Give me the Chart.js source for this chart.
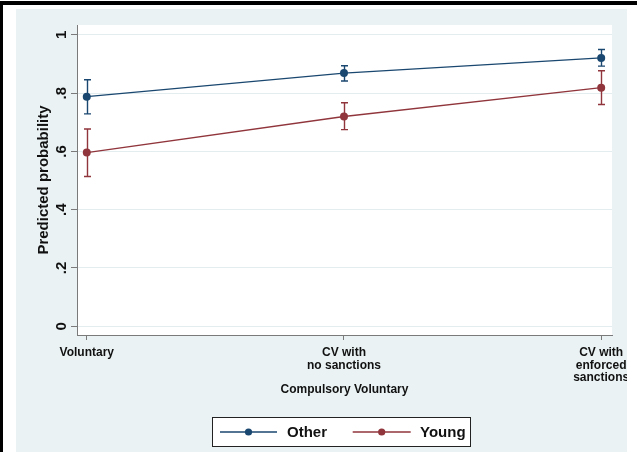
<!DOCTYPE html>
<html>
<head>
<meta charset="utf-8">
<script src="https://cdn.jsdelivr.net/npm/chart.js@4"></script>
<style>
  html, body { margin: 0; padding: 0; background: #fff; }
  body { width: 637px; height: 452px; position: relative; overflow: hidden; }
  #topRule { position: absolute; left: 0; top: 1px; width: 637px; height: 4px; background: #000; }
  #leftRule { position: absolute; left: 0; top: 1px; width: 3px; height: 451px; background: #000; }
  #wrap { position: absolute; left: 16px; top: 9px; width: 611px; height: 443px; background: #eaf2f3; }
  canvas { display: block; }
</style>
</head>
<body>
<div id="topRule"></div>
<div id="leftRule"></div>
<div id="wrap"><canvas id="c" width="611" height="443"></canvas></div>
<script>
// Categories of the x axis (each entry is a multi-line label)
const categories = [
  ["Voluntary"],
  ["CV with", "no sanctions"],
  ["CV with", "enforced", "sanctions"]
];
const categoryPos = [0, 1, 2];

// Predicted probabilities with confidence intervals
const otherProb = [0.788, 0.869, 0.921];
const otherLow  = [0.729, 0.842, 0.893];
const otherHigh = [0.846, 0.894, 0.950];

const youngProb = [0.596, 0.720, 0.819];
const youngLow  = [0.514, 0.675, 0.761];
const youngHigh = [0.677, 0.767, 0.877];

// Y axis ticks
const yTicks = [0, 0.2, 0.4, 0.6, 0.8, 1];
const yTickLabels = ["0", ".2", ".4", ".6", ".8", "1"];

const seriesNames = ["Other", "Young"];
const xTitle = "Compulsory Voluntary";
const yTitle = "Predicted probability";

const COLOR_OTHER = "#1a476f";
const COLOR_YOUNG = "#90353b";
const AXIS_COLOR = "#7a7a7a";
const FONT = '"Liberation Sans", Arial, Helvetica, sans-serif';

const intervals = [
  { low: otherLow, high: otherHigh },
  { low: youngLow, high: youngHigh }
];

// White plot region
const plotBackground = {
  id: "plotBackground",
  beforeDraw(chart) {
    const { ctx, chartArea: a } = chart;
    ctx.save();
    ctx.fillStyle = "#ffffff";
    ctx.fillRect(a.left, a.top, a.right - a.left, a.bottom - a.top);
    ctx.restore();
  }
};

// Capped confidence-interval bars
const errorBars = {
  id: "errorBars",
  beforeDatasetsDraw(chart) {
    const { ctx } = chart;
    const xs = chart.scales.x, ys = chart.scales.y;
    chart.data.datasets.forEach((ds, i) => {
      const iv = intervals[i];
      ctx.save();
      ctx.strokeStyle = ds.borderColor;
      ctx.lineWidth = 1.4;
      categoryPos.forEach((p, j) => {
        const x = Math.round(xs.getPixelForValue(p)) + 0.5;
        const yl = ys.getPixelForValue(iv.low[j]);
        const yh = ys.getPixelForValue(iv.high[j]);
        const w = 3.5;
        ctx.beginPath();
        ctx.moveTo(x, yl); ctx.lineTo(x, yh);
        ctx.moveTo(x - w, yl); ctx.lineTo(x + w, yl);
        ctx.moveTo(x - w, yh); ctx.lineTo(x + w, yh);
        ctx.stroke();
      });
      ctx.restore();
    });
  }
};

// Axis labels, titles and legend
const textLayer = {
  id: "textLayer",
  afterDraw(chart) {
    const { ctx, chartArea: a } = chart;
    const xs = chart.scales.x, ys = chart.scales.y;
    ctx.save();
    ctx.fillStyle = "#111";

    // y tick labels, rotated
    ctx.font = "bold 15px " + FONT;
    ctx.textAlign = "center";
    ctx.textBaseline = "alphabetic";
    yTicks.forEach((v, i) => {
      const y = ys.getPixelForValue(v);
      ctx.save();
      ctx.translate(49.5, y);
      ctx.rotate(-Math.PI / 2);
      ctx.fillText(yTickLabels[i], 0, 0);
      ctx.restore();
    });

    // y title
    ctx.save();
    ctx.translate(32, (a.top + a.bottom) / 2);
    ctx.rotate(-Math.PI / 2);
    ctx.fillText(yTitle, 0, 0);
    ctx.restore();

    // x tick labels
    ctx.font = "bold 12px " + FONT;
    categories.forEach((lines, i) => {
      const x = xs.getPixelForValue(categoryPos[i]);
      lines.forEach((t, k) => {
        ctx.fillText(t, x, a.bottom + 21 + k * 12.6);
      });
    });

    // x title
    ctx.fillText(xTitle, (a.left + a.right) / 2, a.bottom + 58.3);

    // legend
    const bx = 196.5, by = 408.5, bw = 258, bh = 29;
    ctx.fillStyle = "#ffffff";
    ctx.fillRect(bx, by, bw, bh);
    ctx.strokeStyle = "#222";
    ctx.lineWidth = 1;
    ctx.strokeRect(bx, by, bw, bh);
    const ly = by + bh / 2;
    const items = [
      { x0: 204, x1: 261, text: 271 },
      { x0: 336.7, x1: 394.7, text: 404 }
    ];
    chart.data.datasets.forEach((ds, i) => {
      const it = items[i];
      ctx.strokeStyle = ds.borderColor;
      ctx.lineWidth = 1.3;
      ctx.beginPath();
      ctx.moveTo(it.x0, ly); ctx.lineTo(it.x1, ly);
      ctx.stroke();
      ctx.fillStyle = ds.backgroundColor;
      ctx.beginPath();
      ctx.arc((it.x0 + it.x1) / 2, ly, 3.6, 0, Math.PI * 2);
      ctx.fill();
      ctx.fillStyle = "#111";
      ctx.font = "bold 15px " + FONT;
      ctx.textAlign = "left";
      ctx.fillText(ds.label, it.text, ly + 5.4);
    });
    ctx.restore();
  }
};

const makeSeries = (label, values, color) => ({
  label,
  data: values.map((v, i) => ({ x: categoryPos[i], y: v })),
  borderColor: color,
  backgroundColor: color,
  borderWidth: 1.3,
  pointRadius: 4,
  pointBorderWidth: 0,
  pointHoverRadius: 4,
  tension: 0,
  fill: false
});

new Chart(document.getElementById("c"), {
  type: "line",
  data: {
    datasets: [
      makeSeries(seriesNames[0], otherProb, COLOR_OTHER),
      makeSeries(seriesNames[1], youngProb, COLOR_YOUNG)
    ]
  },
  options: {
    responsive: false,
    animation: false,
    devicePixelRatio: 1,
    layout: { padding: { left: 0, top: 16, right: 15, bottom: 0 } },
    plugins: {
      legend: { display: false },
      tooltip: { enabled: false }
    },
    scales: {
      x: {
        type: "linear",
        min: -0.038,
        max: 2.042,
        afterBuildTicks: s => { s.ticks = categoryPos.map(v => ({ value: v })); },
        afterFit: s => { s.height = 117; },
        ticks: { display: false },
        grid: { drawOnChartArea: false, drawTicks: true, tickLength: 5, tickColor: AXIS_COLOR, tickWidth: 1 },
        border: { display: true, color: AXIS_COLOR, width: 1 }
      },
      y: {
        type: "linear",
        min: -0.03,
        max: 1.034,
        afterBuildTicks: s => { s.ticks = yTicks.map(v => ({ value: v })); },
        afterFit: s => { s.width = 61; },
        ticks: { display: false },
        grid: { color: "#e3edef", lineWidth: 1, drawTicks: true, tickLength: 6, tickColor: AXIS_COLOR, tickWidth: 1 },
        border: { display: true, color: AXIS_COLOR, width: 1 }
      }
    }
  },
  plugins: [plotBackground, errorBars, textLayer]
});
</script>
</body>
</html>
